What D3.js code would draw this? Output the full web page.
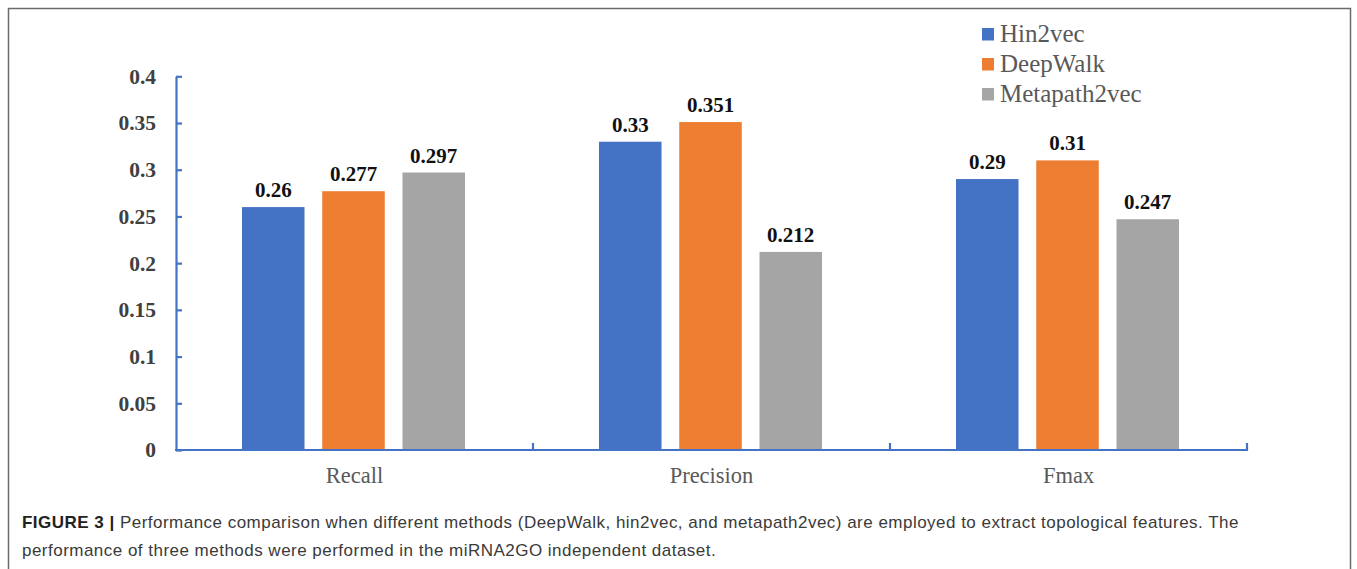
<!DOCTYPE html>
<html>
<head>
<meta charset="utf-8">
<script src="https://cdn.jsdelivr.net/npm/d3@7"></script>
<style>
  html, body { margin: 0; padding: 0; background: #fff; }
  svg { display: block; }
</style>
</head>
<body>
<svg id="chart" width="1357" height="569"></svg>
<script>
// Evaluation metrics and the three embedding methods
const categories = ["Recall", "Precision", "Fmax"];
const methods = ["Hin2vec", "DeepWalk", "Metapath2vec"];
const hin2vec = [0.26, 0.33, 0.29];
const deepWalk = [0.277, 0.351, 0.31];
const metapath2vec = [0.297, 0.212, 0.247];
const valueLabels = [
  ["0.26", "0.33", "0.29"],
  ["0.277", "0.351", "0.31"],
  ["0.297", "0.212", "0.247"]
];
const yTicks = [0, 0.05, 0.1, 0.15, 0.2, 0.25, 0.3, 0.35, 0.4];
const yTickLabels = ["0", "0.05", "0.1", "0.15", "0.2", "0.25", "0.3", "0.35", "0.4"];
const colors = ["#4472C4", "#ED7D31", "#A5A5A5"];
const captionLines = [
  "Performance comparison when different methods (DeepWalk, hin2vec, and metapath2vec) are employed to extract topological features. The",
  "performance of three methods were performed in the miRNA2GO independent dataset."
];

const series = [hin2vec, deepWalk, metapath2vec];
const svg = d3.select("#chart");

// Figure frame
svg.append("rect")
  .attr("x", 8.5).attr("y", 8.5)
  .attr("width", 1342).attr("height", 600)
  .attr("fill", "none").attr("stroke", "#6b6b6b").attr("stroke-width", 1.5);

const plot = { left: 176, right: 1247, top: 76.3, bottom: 450 };

const y = d3.scaleLinear().domain([0, 0.4]).range([plot.bottom, plot.top]);
const x0 = d3.scaleBand().domain(categories).range([plot.left, plot.right]).padding(0);
const x1 = d3.scaleBand().domain(methods).range([66, 289]).paddingInner(0.221).paddingOuter(0);

const axisColor = "#4472C4";
const serif = "'Liberation Serif', 'Times New Roman', serif";

// Bars
const groups = svg.append("g").selectAll("g")
  .data(categories)
  .join("g")
  .attr("transform", d => `translate(${x0(d)},0)`);

groups.each(function(cat, ci) {
  const g = d3.select(this);
  methods.forEach((m, mi) => {
    const v = series[mi][ci];
    g.append("rect")
      .attr("x", x1(m))
      .attr("y", y(v))
      .attr("width", x1.bandwidth())
      .attr("height", y(0) - y(v))
      .attr("fill", colors[mi]);
    g.append("text")
      .attr("x", x1(m) + x1.bandwidth() / 2)
      .attr("y", y(v) - 10)
      .attr("text-anchor", "middle")
      .attr("font-family", serif)
      .attr("font-weight", "bold")
      .attr("font-size", 21)
      .attr("fill", "#111")
      .text(valueLabels[mi][ci]);
  });
});

// Y axis
const yAxis = d3.axisLeft(y)
  .tickValues(yTicks)
  .tickFormat((d, i) => yTickLabels[i])
  .tickSizeInner(-6)
  .tickSizeOuter(0)
  .tickPadding(20);
const gy = svg.append("g").attr("transform", `translate(${plot.left},0)`).call(yAxis);
gy.select(".domain").attr("stroke", axisColor).attr("stroke-width", 2.2);
gy.selectAll(".tick line").attr("stroke", axisColor).attr("stroke-width", 2.2);
gy.selectAll(".tick text")
  .attr("font-family", serif)
  .attr("font-weight", "bold")
  .attr("font-size", 21.5)
  .attr("fill", "#404040");

// X axis: baseline, boundary ticks and category names
const gx = svg.append("g");
gx.append("line")
  .attr("x1", plot.left - 1).attr("x2", plot.right + 1)
  .attr("y1", y(0)).attr("y2", y(0))
  .attr("stroke", axisColor).attr("stroke-width", 2.2);
const boundaries = categories.map(c => x0(c) + x0.bandwidth());
gx.selectAll("line.bt")
  .data(boundaries)
  .join("line")
  .attr("class", "bt")
  .attr("x1", d => d).attr("x2", d => d)
  .attr("y1", y(0)).attr("y2", y(0) - 7)
  .attr("stroke", axisColor).attr("stroke-width", 2.2);

const xAxis = d3.axisBottom(x0).tickSize(0).tickPadding(0);
const gxl = svg.append("g").attr("transform", `translate(0,${y(0)})`).call(xAxis);
gxl.select(".domain").remove();
gxl.selectAll(".tick text")
  .attr("y", 33).attr("dy", 0)
  .attr("font-family", serif)
  .attr("font-size", 22.5)
  .attr("fill", "#595959");

// Legend
const legend = svg.append("g").selectAll("g")
  .data(methods)
  .join("g")
  .attr("transform", (d, i) => `translate(982,${41.5 + i * 30})`);
legend.append("rect")
  .attr("x", 0).attr("y", -13.5)
  .attr("width", 12).attr("height", 12.5)
  .attr("fill", (d, i) => colors[i]);
legend.append("text")
  .attr("x", 18).attr("y", 0)
  .attr("font-family", serif)
  .attr("font-size", 25)
  .attr("fill", "#595959")
  .text(d => d);

// Caption
const sans = "'Liberation Sans', Arial, Helvetica, sans-serif";
const cap = svg.append("g")
  .attr("font-family", sans)
  .attr("font-size", 17)
  .attr("letter-spacing", "0.48px")
  .attr("fill", "#3a3a3a");
const line1 = cap.append("text").attr("x", 22).attr("y", 528);
line1.append("tspan").attr("font-weight", "bold").attr("fill", "#222").text("FIGURE 3 | ");
line1.append("tspan").text(captionLines[0]);
cap.append("text").attr("x", 22).attr("y", 556).text(captionLines[1]);
</script>
</body>
</html>
